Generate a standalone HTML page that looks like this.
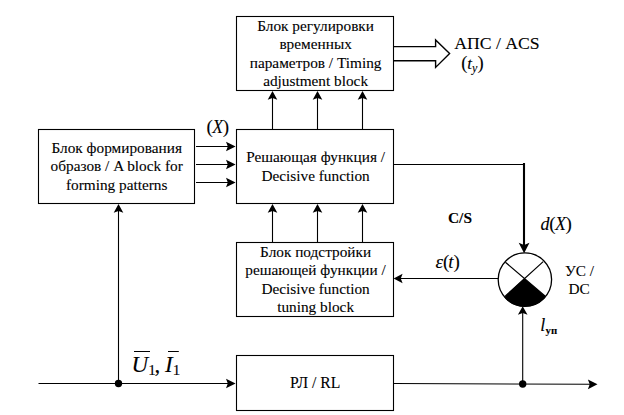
<!DOCTYPE html>
<html>
<head>
<meta charset="utf-8">
<style>
html,body{margin:0;padding:0;background:#fff;}
body{width:624px;height:415px;position:relative;overflow:hidden;}
svg{position:absolute;left:0;top:0;display:block;}
text{font-family:"Liberation Serif",serif;fill:#000;white-space:pre;stroke:#000;stroke-width:0.1px;}
.i{font-style:italic;}
.b{font-weight:bold;}
</style>
</head>
<body>
<svg width="624" height="415" viewBox="0 0 624 415">
<g fill="none" stroke="#000" stroke-width="1.1">
<rect x="236.5" y="16.5" width="157.00" height="74.00"/>
<rect x="236.5" y="129.5" width="157.00" height="74.00"/>
<rect x="38.5" y="129.5" width="156.00" height="74.00"/>
<rect x="236.5" y="242.5" width="157.00" height="74.00"/>
<rect x="236.5" y="355.5" width="157.00" height="55.00"/>
<path d="M38.5 383.5H232"/>
<path d="M393.5 383.45L592 384.3"/>
<path d="M118.5 383.5V208"/>
<path d="M196 146.5H232M196 164.5H232M196 182.5H232"/>
<path d="M272.5 129.5V96M317.5 129.5V96M362.5 129.5V96"/>
<path d="M272.5 242.5V208M317.5 242.5V208M362.5 242.5V208"/>
<path d="M393.5 164.5H524"/>
<path d="M498 278.5H398"/>
<path d="M522.7 383.5V311"/>
<path d="M393.5 46.6H435.6V39.9L449.6 53.6L435.6 67.4V60.7H393.5" stroke-width="1.4"/>
</g>
<path d="M524 163V245" stroke="#000" stroke-width="2.1" fill="none"/>
<circle cx="524.9" cy="279.6" r="26.7" fill="#fff" stroke="#000" stroke-width="1.3"/>
<clipPath id="cc"><circle cx="524.9" cy="279.6" r="27.2"/></clipPath>
<path d="M524.3 278.2L486.5 313.8H565.7Z" fill="#000" clip-path="url(#cc)"/>
<path d="M505.4 262.2L545 296M543.2 261.6L505.4 296" stroke="#000" stroke-width="1.2" fill="none"/>
<g fill="#000">
<path d="M235.60 383.50L226.00 378.70L227.80 383.50L226.00 388.30Z"/>
<path d="M597.50 384.35L587.90 379.55L589.70 384.35L587.90 389.15Z"/>
<path d="M118.50 203.90L113.70 212.70L118.50 210.90L123.30 212.70Z"/>
<path d="M235.60 146.50L226.00 141.70L227.80 146.50L226.00 151.30Z"/>
<path d="M235.60 164.50L226.00 159.70L227.80 164.50L226.00 169.30Z"/>
<path d="M235.60 182.50L226.00 177.70L227.80 182.50L226.00 187.30Z"/>
<path d="M272.50 90.90L267.70 99.70L272.50 97.90L277.30 99.70Z"/>
<path d="M317.50 90.90L312.70 99.70L317.50 97.90L322.30 99.70Z"/>
<path d="M362.50 90.90L357.70 99.70L362.50 97.90L367.30 99.70Z"/>
<path d="M272.50 203.90L267.70 212.70L272.50 210.90L277.30 212.70Z"/>
<path d="M317.50 203.90L312.70 212.70L317.50 210.90L322.30 212.70Z"/>
<path d="M362.50 203.90L357.70 212.70L362.50 210.90L367.30 212.70Z"/>
<path d="M393.60 278.50L402.60 273.70L400.80 278.50L402.60 283.30Z"/>
<path d="M522.70 306.30L517.90 314.80L522.70 313.00L527.50 314.80Z"/>
<path d="M524.10 253.30L518.70 242.70L524.10 245.10L529.50 242.70Z"/>
<circle cx="118.5" cy="383.5" r="3.7"/>
<circle cx="522.7" cy="384.0" r="3.7"/>
</g>
<path d="M134 351.5H150M168 351.5H178.8" stroke="#000" stroke-width="1" fill="none"/>
<text x="315.6" y="31" font-size="15.3" text-anchor="middle" >Блок регулировки</text>
<text x="315.6" y="49" font-size="15.3" text-anchor="middle" >временных</text>
<text x="315.6" y="68" font-size="15.3" text-anchor="middle" >параметров / Timing</text>
<text x="315.6" y="86" font-size="15.3" text-anchor="middle" >adjustment block</text>
<text x="116.7" y="153" font-size="15.3" text-anchor="middle" >Блок формирования</text>
<text x="116.7" y="171" font-size="15.3" text-anchor="middle" >образов / A block for</text>
<text x="116.7" y="190" font-size="15.3" text-anchor="middle" >forming patterns</text>
<text x="315.6" y="162" font-size="15.3" text-anchor="middle" >Решающая функция /</text>
<text x="315.6" y="180.7" font-size="15.3" text-anchor="middle" >Decisive function</text>
<text x="315.6" y="256.5" font-size="15.3" text-anchor="middle" >Блок подстройки</text>
<text x="315.6" y="274.7" font-size="15.3" text-anchor="middle" >решающей функции /</text>
<text x="315.6" y="294" font-size="15.3" text-anchor="middle" >Decisive function</text>
<text x="315.6" y="312" font-size="15.3" text-anchor="middle" >tuning block</text>
<text x="315.2" y="387.5" font-size="15.7" text-anchor="middle" >РЛ / RL</text>
<text x="454.2" y="48.7" font-size="17.7" >АПС / ACS</text>
<text x="461.2" y="68.7" font-size="17" ><tspan font-size="18.5" dy="0.4">(</tspan><tspan class="i" dy="-0.4">t</tspan><tspan class="i" font-size="12" dy="3">y</tspan><tspan font-size="18.5" dy="-2.6">)</tspan></text>
<text x="206.6" y="132.8" font-size="18.5" letter-spacing="-0.3"><tspan font-size="19" dy="0">(</tspan><tspan class="i" font-size="17.8" dx="-0.5">X</tspan><tspan font-size="19" dy="0">)</tspan></text>
<text x="448.0" y="223" font-size="15.4" class="b">C/S</text>
<text x="540.6" y="229.7" font-size="18" letter-spacing="-0.45"><tspan class="i">d</tspan><tspan font-size="19" dy="0">(</tspan><tspan class="i">X</tspan><tspan font-size="19" dy="0">)</tspan></text>
<text x="435.4" y="267.9" font-size="19" ><tspan class="i">ε</tspan><tspan font-size="19" dy="0">(</tspan><tspan class="i" dx="-1">t</tspan><tspan font-size="19" dy="0">)</tspan></text>
<text x="565" y="276" font-size="15.3" >УС /</text>
<text x="568.5" y="293.5" font-size="15.3" >DC</text>
<text x="540.2" y="330.7" font-size="18" ><tspan class="i">l</tspan><tspan font-size="10.8" dy="3.2" dx="0.4" class="b">уп</tspan></text>
<text x="131.5" y="371.7" font-size="23" ><tspan class="i">U</tspan><tspan font-size="15" dy="3">1</tspan><tspan dy="-3" dx="-1.2">,</tspan></text>
<text x="165" y="371.7" font-size="23" ><tspan class="i">I</tspan><tspan font-size="15" dy="3">1</tspan></text>
</svg>
</body>
</html>
